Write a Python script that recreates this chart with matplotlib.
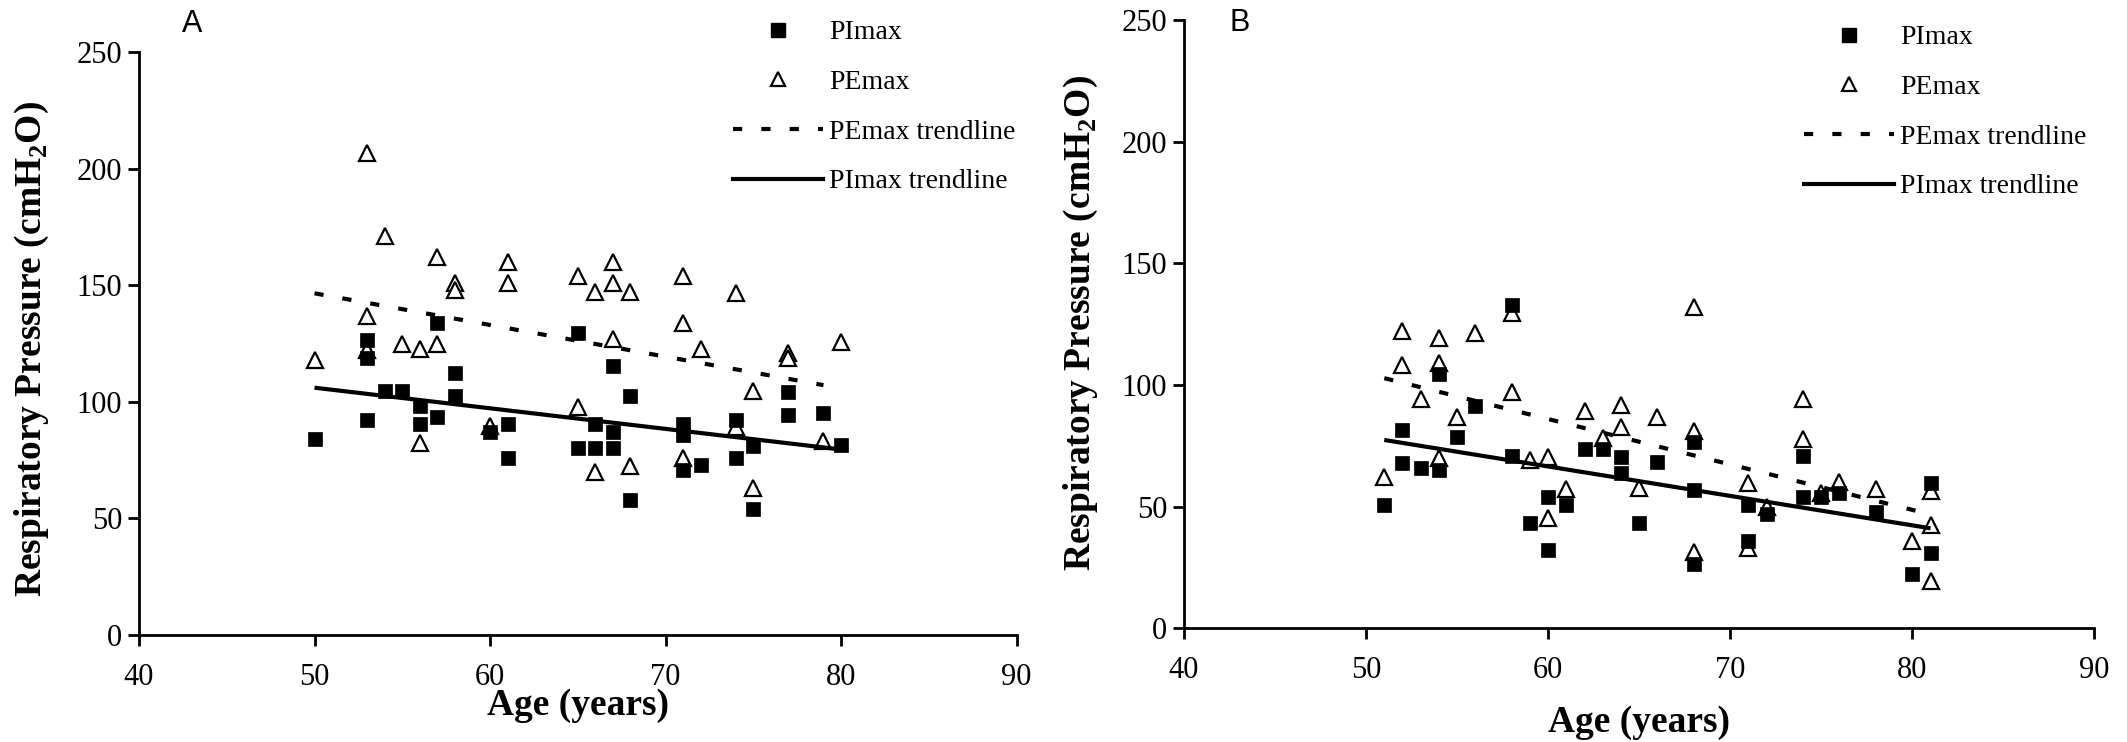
import matplotlib
matplotlib.use("Agg")
import matplotlib.pyplot as plt
from matplotlib.lines import Line2D

# ---------------- Data ----------------
# Panel A
a_pimax_age = [50, 53, 53, 53, 54, 55, 56, 56, 57, 57, 58, 58, 60, 61, 61,
               65, 65, 66, 66, 67, 67, 67, 68, 68, 71, 71, 71, 72, 74, 74,
               75, 75, 77, 77, 79, 80]
a_pimax_val = [84, 126.7, 118.7, 92.2, 104.6, 104.6, 98.2, 90.5, 133.7, 93.4,
               112.5, 102.4, 87.2, 90.5, 76.1,
               129.6, 80.2, 90.4, 80.2, 115.4, 87.2, 80.2, 102.5, 57.8,
               90.5, 85.6, 70.8, 72.8, 92.4, 76.1,
               81.0, 54.0, 104.4, 94.4, 95.4, 81.4]

a_pemax_age = [50, 53, 53, 53, 54, 55, 56, 56, 57, 57, 58, 58, 60, 61, 61,
               65, 65, 66, 66, 67, 67, 67, 68, 68, 71, 71, 71, 72, 74, 74,
               75, 75, 77, 77, 79, 80]
a_pemax_val = [118, 206.6, 136.9, 122.3, 171.2, 124.7, 122.6, 82.2, 162.3, 124.7,
               150.9, 148, 89.5, 160.2, 150.9,
               154, 97.8, 147.3, 69.8, 160.2, 150.9, 126.8, 147.3, 72.5,
               154, 134, 75.9, 122.6, 146.9, 89.1,
               104.8, 62.9, 120.8, 118.7, 83.2, 125.8]

a_trend_age = [50, 80]
a_pimax_trend = [106.1, 79.6]
a_pemax_trend_age = [50, 79]
a_pemax_trend = [146.6, 107.2]

# Panel B
b_pimax_age = [51, 52, 52, 53, 54, 54, 55, 56, 58, 58, 59, 60, 60, 61, 62, 63,
               64, 64, 65, 66, 68, 68, 68, 71, 71, 72, 74, 74, 75, 76, 78, 80,
               81, 81]
b_pimax_val = [50.7, 81.5, 67.8, 65.8, 104.4, 65.1, 78.5, 91.5, 132.9, 70.9,
               43.2, 54.1, 32.2, 50.7, 73.5, 73.5,
               70.5, 63.7, 43.2, 68.5, 76.7, 56.8, 26.3, 50.7, 36.0, 47.0,
               70.8, 54.1, 54.1, 55.7, 47.9, 22.3, 59.8, 31.1]

b_pemax_age = [51, 52, 52, 53, 54, 54, 54, 55, 56, 58, 58, 59, 60, 60, 61, 62,
               63, 64, 64, 65, 66, 68, 68, 68, 71, 71, 72, 74, 74, 75, 76, 78,
               80, 81, 81, 81]
b_pemax_val = [62.1, 122.2, 108.2, 94.2, 119.2, 109.2, 69.9, 86.7, 121.2, 129.7,
               97.3, 69.2, 70.5, 45.2, 57.2, 89.4,
               78.1, 91.8, 82.6, 57.5, 86.7, 131.9, 81.2, 31.5, 59.8, 32.9,
               50.0, 94.2, 77.7, 55.5, 60.3, 57.1, 36.0, 56.6, 42.5, 19.6]

b_trend_age = [51, 81]
b_pimax_trend = [77.4, 41.1]
b_pemax_trend = [102.8, 46.8]

x_ticks = [40, 50, 60, 70, 80, 90]
y_ticks = [0, 50, 100, 150, 200, 250]
legend_labels = ["PImax", "PEmax", "PEmax trendline", "PImax trendline"]

# ---------------- Figure ----------------
W, H = 2127, 742
fig = plt.figure(figsize=(W / 100, H / 100), dpi=100)

SERIF = "Liberation Serif"
SANS = "Liberation Sans"

def px_rect(l, r, t, b):
    return [l / W, 1 - b / H, (r - l) / W, (b - t) / H]

axA = fig.add_axes(px_rect(139, 1016.5, 52.3, 635))
axB = fig.add_axes(px_rect(1184, 2094.4, 20, 628.3))

def style_axis(ax, xlab_pos, ylab_pos):
    ax.set_xlim(40, 90)
    ax.set_ylim(0, 250)
    ax.set_xticks(x_ticks)
    ax.set_yticks(y_ticks)
    for s in ("top", "right"):
        ax.spines[s].set_visible(False)
    for s in ("left", "bottom"):
        ax.spines[s].set_linewidth(2.0)
    ax.tick_params(axis="both", direction="out", length=8, width=2.0,
                   labelsize=22)
    ax.tick_params(axis="x", pad=12)
    ax.tick_params(axis="y", pad=4)
    for lab in ax.get_xticklabels() + ax.get_yticklabels():
        lab.set_fontfamily(SERIF)
    ax.set_xlabel("Age (years)", fontfamily=SERIF, fontweight="bold",
                  fontsize=27)
    ax.set_ylabel(r"Respiratory Pressure (cmH$_\mathregular{2}$O)",
                  fontfamily=SERIF, fontweight="bold", fontsize=27)
    ax.xaxis.set_label_coords(*xlab_pos)
    ax.yaxis.set_label_coords(*ylab_pos)
    ax.xaxis.label.set_verticalalignment("center")
    ax.yaxis.label.set_verticalalignment("center")

def draw(ax, pim_x, pim_y, pem_x, pem_y, tr_pem_x, tr_pem_y, tr_pim_x, tr_pim_y):
    ax.plot(pem_x, pem_y, linestyle="none", marker="^", markersize=11,
            markerfacecolor="white", markeredgecolor="black",
            markeredgewidth=1.6, zorder=3)
    ax.plot(pim_x, pim_y, linestyle="none", marker="s", markersize=10.2,
            markerfacecolor="black", markeredgecolor="black",
            markeredgewidth=0.5, zorder=4)
    ax.plot(tr_pem_x, tr_pem_y, color="black", linewidth=3,
            dashes=(2.2, 4.6), zorder=5)
    ax.plot(tr_pim_x, tr_pim_y, color="black", linewidth=3,
            solid_capstyle="butt", zorder=5)

draw(axA, a_pimax_age, a_pimax_val, a_pemax_age, a_pemax_val,
     a_pemax_trend_age, a_pemax_trend, a_trend_age, a_pimax_trend)
draw(axB, b_pimax_age, b_pimax_val, b_pemax_age, b_pemax_val,
     b_trend_age, b_pemax_trend, b_trend_age, b_pimax_trend)

style_axis(axA, (0.5, -0.121), (-0.122, 0.49))
style_axis(axB, (0.5, -0.155), (-0.113, 0.502))

def make_handles():
    return [
        Line2D([], [], linestyle="none", marker="s", markersize=10.5,
               markerfacecolor="black", markeredgecolor="black"),
        Line2D([], [], linestyle="none", marker="^", markersize=9.5,
               markerfacecolor="white", markeredgecolor="black",
               markeredgewidth=1.6),
        Line2D([], [], color="black", linewidth=3, dashes=(2.2, 4.6)),
        Line2D([], [], color="black", linewidth=3),
    ]

def add_legend(ax, left_px, top_px):
    leg = ax.legend(make_handles(), legend_labels, loc="upper left",
                    bbox_to_anchor=(left_px / W, 1 - top_px / H),
                    bbox_transform=fig.transFigure, frameon=False,
                    borderpad=0, borderaxespad=0, handlelength=3.25,
                    handletextpad=0.22, labelspacing=0.87, numpoints=1,
                    prop={"family": SERIF, "size": 20})
    return leg

add_legend(axA, 733, 20)
add_legend(axB, 1804, 25)

fig.text(192 / W, 1 - 24 / H, "A", fontfamily=SANS, fontsize=22,
         ha="center", va="center")
fig.text(1240 / W, 1 - 23 / H, "B", fontfamily=SANS, fontsize=22,
         ha="center", va="center")

fig.savefig("out.png", dpi=100, facecolor="white")
